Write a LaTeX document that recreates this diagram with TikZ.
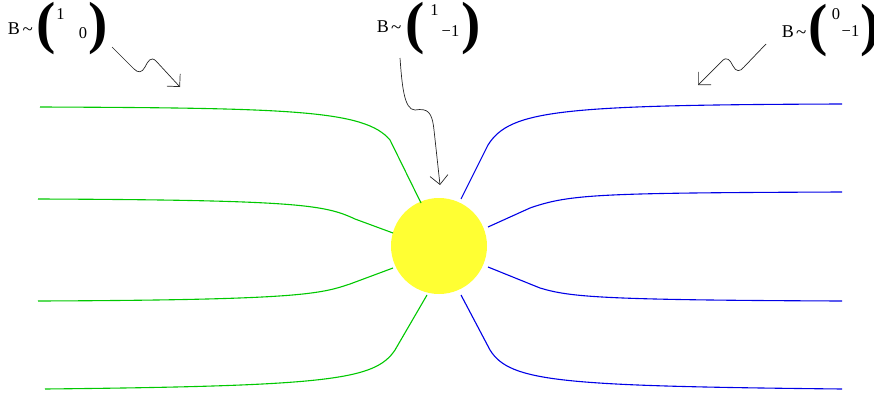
\documentclass[tikz,border=0pt]{standalone}
\usepackage{fontspec}
\setmainfont{Liberation Serif}
\usetikzlibrary{arrows.meta}
\definecolor{lgreen}{RGB}{0,200,0}
\definecolor{lblue}{RGB}{0,0,230}
\definecolor{sunyellow}{RGB}{255,255,51}
\begin{document}
\begin{tikzpicture}[x=1pt,y=-1pt,
  txt/.style={inner sep=0pt, anchor=base west, font=\fontsize{18}{18}\selectfont},
  tld/.style={inner sep=0pt, anchor=base west, font=\fontsize{19}{19}\selectfont},
  ent/.style={inner sep=0pt, anchor=base west, font=\fontsize{16.5}{16.5}\selectfont},
  paren/.style={inner sep=0pt, anchor=base west, font=\fontsize{58}{58}\selectfont\bfseries},
  gline/.style={draw=lgreen, line width=1.1pt},
  bline/.style={draw=lblue, line width=1.1pt},
  squig/.style={draw=black!85, line width=0.7pt, -{Straight Barb[length=9pt,width=18pt]}}]
\useasboundingbox (0,0) rectangle (874,396);

% sun
\node[circle, fill=sunyellow, minimum size=96pt, inner sep=0pt] (sun) at (439,246) {};

% label 1
\node[txt] (b1) at (7.7,34.7) {B};
\node[tld] (t1) at (22.5,36) {\textasciitilde};
\node[paren] (p1l) at (36,43) {(};
\node[ent] (e1a) at (56.2,20) {1};
\node[ent] (e1b) at (78.6,38) {0};
\node[paren] (p1r) at (88.1,43) {)};

% label 2
\node[txt] (b2) at (376.7,32.7) {B};
\node[tld] (t2) at (391,34) {\textasciitilde};
\node[paren] (p2l) at (405,43) {(};
\node[ent] (e2a) at (430.2,16) {1};
\node[ent] (e2b) at (441.5,37) {−1};
\node[paren] (p2r) at (461.1,43) {)};

% label 3
\node[txt] (b3) at (781.7,37.7) {B};
\node[tld] (t3) at (796,39) {\textasciitilde};
\node[paren] (p3l) at (808,44.5) {(};
\node[ent] (e3a) at (831.6,20) {0};
\node[ent] (e3b) at (841.5,37) {−1};
\node[paren] (p3r) at (860.1,44.5) {)};

% squiggly arrows
\coordinate (a1s) at (112,47);
\coordinate (a1e) at (180,87);
\draw[squig] (a1s) -- (134,69) .. controls (138,73) and (142,73) .. (145,67)
  .. controls (148,61) and (151,56) .. (156,61) -- (a1e);

\coordinate (a2s) at (400,58);
\coordinate (a2e) at (440,185);
\draw[squig] (a2s) .. controls (402,85) and (404,110) .. (415,110)
  .. controls (428,108) and (432,112) .. (434,130) -- (a2e);

\coordinate (a3s) at (766,44);
\coordinate (a3e) at (698,85);
\draw[squig] (a3s) -- (744,67) .. controls (740,72) and (736,72) .. (733,66)
  .. controls (730,60) and (727,56) .. (722,61) -- (a3e);

% green field lines
\coordinate (g1s) at (40,107);  \coordinate (g1e) at (421,203);
\coordinate (g2s) at (38,199);  \coordinate (g2e) at (393,233);
\coordinate (g3s) at (38,301);  \coordinate (g3e) at (393,268);
\coordinate (g4s) at (45,389);  \coordinate (g4e) at (427,295);
\draw[gline] (g1s) .. controls (290,108) and (365,110) .. (390,140) -- (g1e);
\draw[gline] (g2s) .. controls (300,200) and (325,205) .. (355,219) -- (g2e);
\draw[gline] (g3s) .. controls (300,300) and (320,294) .. (350,284) -- (g3e);
\draw[gline] (g4s) .. controls (330,386) and (375,380) .. (395,350) -- (g4e);

% blue field lines
\coordinate (b1s) at (842,104); \coordinate (b1e) at (461,199);
\coordinate (b2s) at (842,192); \coordinate (b2e) at (488,227);
\coordinate (b3s) at (842,301); \coordinate (b3e) at (488,267);
\coordinate (b4s) at (842,389); \coordinate (b4e) at (461,295);
\draw[bline] (b1s) .. controls (560,105) and (510,110) .. (488,145) -- (b1e);
\draw[bline] (b2s) .. controls (600,193) and (570,194) .. (530,208) -- (b2e);
\draw[bline] (b3s) .. controls (600,300) and (570,297) .. (540,288) -- (b3e);
\draw[bline] (b4s) .. controls (560,386) and (510,382) .. (490,350) -- (b4e);
\end{tikzpicture}
\end{document}
